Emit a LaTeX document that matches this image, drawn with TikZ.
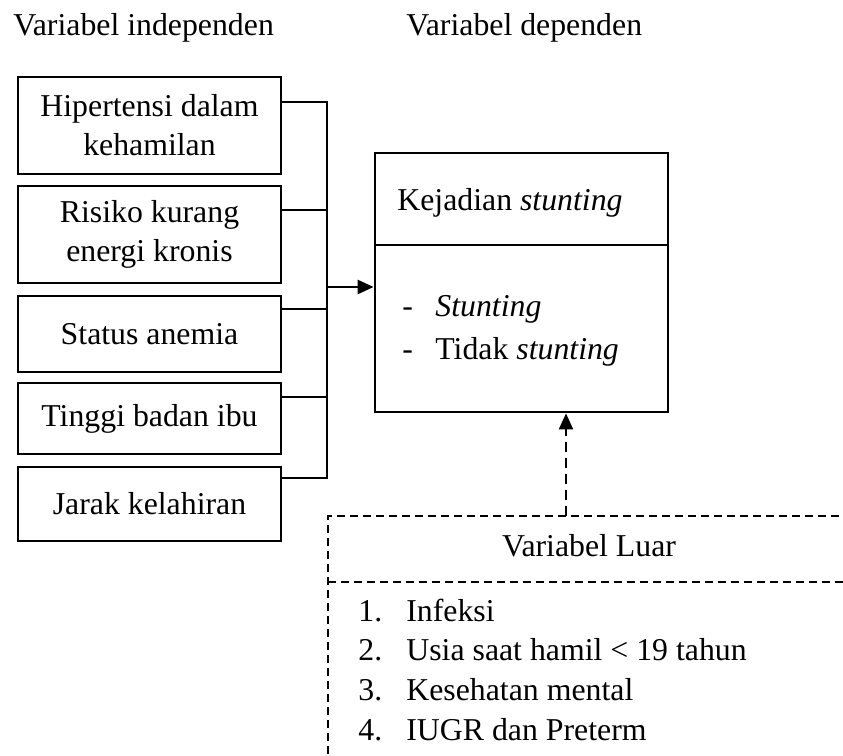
\documentclass[tikz,border=0pt]{standalone}
\usepackage{fontspec}
\setmainfont{Liberation Serif}
\usetikzlibrary{arrows.meta}
\begin{document}
\begin{tikzpicture}[x=0.5pt,y=-0.5pt,
  every node/.style={font=\fontsize{15.9}{19.5}\selectfont, inner sep=0pt},
  varbox/.style={draw, line width=1.4pt, minimum width=131.5pt, align=center},
  outbox/.style={draw, line width=1.4pt, minimum width=146.5pt},
  link/.style={line width=0.65pt},
  feed/.style={line width=1.3pt, -{Triangle[length=8pt,width=7pt]}},
  ctrl/.style={line width=1.1pt, dash pattern=on 5pt off 3pt, -{Triangle[length=8pt,width=7pt]}},
  outer/.style={line width=1pt, dash pattern=on 4pt off 2.5pt}]
\useasboundingbox (0,0) rectangle (843,756);
\clip (0,0) rectangle (843,756);

% headings
\node[anchor=base west] (hind) at (13,35) {Variabel independen};
\node[anchor=base west] (hdep) at (406,35) {Variabel dependen};

% independent variables
\node[varbox, minimum height=48.5pt] (b1) at (149.5,125.5) {Hipertensi dalam\\kehamilan};
\node[varbox, minimum height=48.5pt] (b2) at (149.5,234.5) {Risiko kurang\\energi kronis};
\node[varbox, minimum height=38pt]   (b3) at (149.5,334)   {Status anemia};
\node[varbox, minimum height=35.5pt] (b4) at (149.5,418.5) {Tinggi badan ibu};
\node[varbox, minimum height=37pt]   (b5) at (149.5,504)   {Jarak kelahiran};

% collecting bus
\coordinate (j1) at (327,102);
\coordinate (j2) at (327,210);
\coordinate (j3) at (327,309);
\coordinate (j4) at (327,397);
\coordinate (j5) at (327,478);
\coordinate (ja) at (327,287);
\draw[link] (b1.east |- j1) -- (j1) -- (j5) -- (b5.east |- j5);
\draw[link] (b2.east |- j2) -- (j2);
\draw[link] (b3.east |- j3) -- (j3);
\draw[link] (b4.east |- j4) -- (j4);

% dependent variable
\node[outbox, minimum height=46pt]   (dtop) at (521.5,199)   {};
\node[outbox, minimum height=83.5pt] (dbot) at (521.5,328.5) {};
\node[anchor=base west] (dtitle) at (397,210) {Kejadian \textit{stunting}};
\node[anchor=base west] (d1a) at (402,316) {-};
\node[anchor=base west] (d1b) at (435,316) {\textit{Stunting}};
\node[anchor=base west] (d2a) at (402,359) {-};
\node[anchor=base west] (d2b) at (435,359) {Tidak \textit{stunting}};

\draw[feed] (ja) -- (dbot.west |- ja);

% confounding variables
\coordinate (lu) at (566,516);
\draw[outer] (328,780) -- (328,516) -- (880,516);
\draw[outer] (328,582) -- (880,582);
\node[anchor=base] (ltitle) at (589,556) {Variabel Luar};
\node[anchor=base west] (n1) at (358,621) {1.};
\node[anchor=base west] (t1) at (406,621) {Infeksi};
\node[anchor=base west] (n2) at (358,660) {2.};
\node[anchor=base west] (t2) at (406,660) {Usia saat hamil < 19 tahun};
\node[anchor=base west] (n3) at (358,700) {3.};
\node[anchor=base west] (t3) at (406,700) {Kesehatan mental};
\node[anchor=base west] (n4) at (358,740) {4.};
\node[anchor=base west] (t4) at (406,740) {IUGR dan Preterm};

\draw[ctrl] (lu) -- (dbot.south -| lu);
\end{tikzpicture}
\end{document}
